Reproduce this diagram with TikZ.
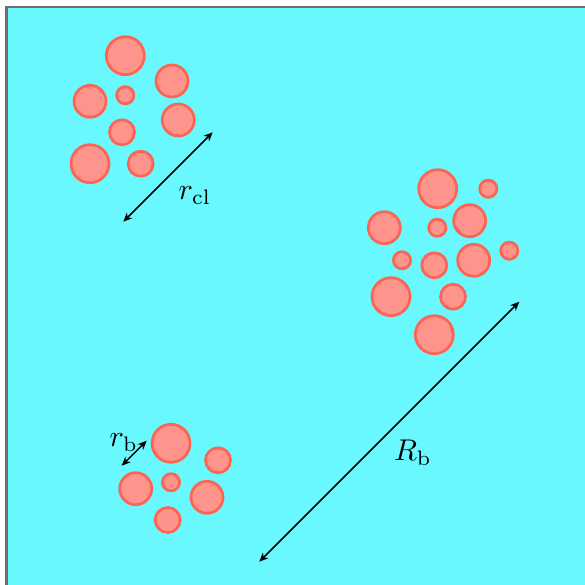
\documentclass[tikz,border=0pt]{standalone}
\usetikzlibrary{arrows.meta}
\definecolor{bgcyan}{RGB}{106,248,255}
\definecolor{frame}{RGB}{110,110,110}
\definecolor{bubfill}{RGB}{255,148,140}
\definecolor{bubedge}{RGB}{255,100,82}
\begin{document}
\begin{tikzpicture}[x=0.3333pt, y=-0.3333pt,
  bubble/.style={fill=bubfill, draw=bubedge, line width=0.9pt},
  dimarrow/.style={{Stealth[length=3pt,width=2.6pt]}-{Stealth[length=3pt,width=2.6pt]}, line width=0.5pt, black},
  dimlabel/.style={anchor=base west, inner sep=0pt}]
\useasboundingbox (0,0) rectangle (584,585);
\draw[fill=bgcyan, draw=frame, line width=0.8pt] (6.5,7) rectangle (620,620);
\foreach \cx/\cy/\rad in {125.3/55.7/19, 172/81/16, 90/101.3/16, 125.3/95.3/8.6, 178.3/120/16, 122/132.3/12.5, 90/163.7/19, 140.7/163.7/12.5}
  \draw[bubble] (\cx,\cy) circle (\rad);
\foreach \cx/\cy/\rad in {437.7/188.7/19, 488.3/188.7/8.6, 469.7/220.7/16, 384.3/227.7/16, 437.3/227.7/8.6, 509.3/250.7/8.6, 402/260.3/8.6, 434.3/265.3/12.5, 473.7/260.3/16, 391/296.7/19, 453/296.7/12.5, 434.3/334.7/19}
  \draw[bubble] (\cx,\cy) circle (\rad);
\foreach \cx/\cy/\rad in {171/443.3/19, 218/460.3/12.5, 135.7/488.7/16, 171/482.3/8.6, 207/497.3/16, 167.7/520/12.5}
  \draw[bubble] (\cx,\cy) circle (\rad);
\coordinate (rcla) at (123.3,221.7);
\coordinate (rclb) at (212.7,132.3);
\coordinate (Rba) at (259.3,561.7);
\coordinate (Rbb) at (519.3,301.7);
\coordinate (rba) at (121.7,465.7);
\coordinate (rbb) at (146.7,440.7);
\draw[dimarrow] (rcla) -- (rclb);
\draw[dimarrow] (Rba) -- (Rbb);
\draw[dimarrow] (rba) -- (rbb);
\node[dimlabel] (lrcl) at (178,200) {$r_{\mathrm{cl}}$};
\node[dimlabel] (lrb) at (109,446.5) {$r_{\mathrm{b}}$};
\node[dimlabel] (lRb) at (393.5,460.5) {$R_{\mathrm{b}}$};
\end{tikzpicture}
\end{document}
